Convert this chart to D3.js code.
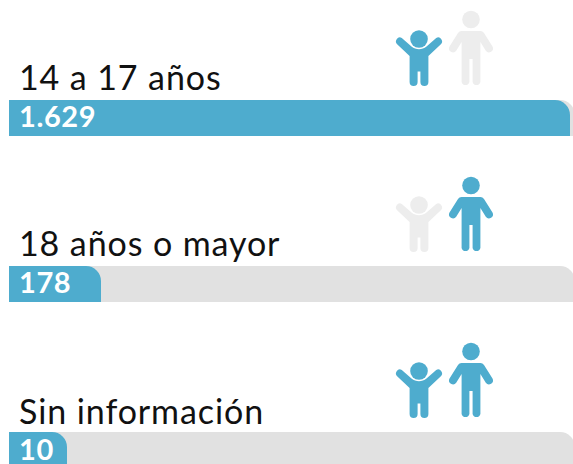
<!DOCTYPE html>
<html>
<head>
<meta charset="utf-8">
<script src="https://d3js.org/d3.v7.min.js"></script>
<style>
  html, body { margin: 0; padding: 0; background: #fff; overflow: hidden; }
  text { font-family: Lato, sans-serif; }
</style>
</head>
<body>
<div id="chart"></div>
<script>
const categories = ["14 a 17 años", "18 años o mayor", "Sin información"];
const values = [1629, 178, 10];
const valueLabels = ["1.629", "178", "10"];
const childOn = [true, false, true];
const adultOn = [false, true, true];

const w = 573, h = 464;
const blue = "#4eacce", off = "#ededed", track = "#e1e1e1";
const barH = 36, r = 15;

const svg = d3.select("#chart").append("svg")
    .attr("width", w)
    .attr("height", h)
    .style("display", "block");

const rowY = d3.scalePoint().domain(categories).range([100, 432]);
// text rows are not spaced quite as evenly as the bars
const labelY = d3.scaleOrdinal().domain(categories).range([90, 256, 423.5]);
const valueY = d3.scaleOrdinal().domain(categories).range([127, 293, 459.5]);
// bars of the original are not proportional for small values, so the scale has three stops
const barW = d3.scaleLinear().domain([10, 178, 1629]).range([58, 92, 561]);

// bar with rounded top right corner, square everywhere else
function barPath(width) {
    return "M0,0H" + (width - r) + "A" + r + "," + r + " 0 0 1 " + width + "," + r +
        "V" + barH + "H0Z";
}

function drawAdult(g, color) {
    g.append("circle").attr("r", 8.8).attr("fill", color);
    g.append("path").attr("fill", color)
        .attr("d", "M-9.4,11.5H9.4C11,11.5 12,12.2 13,13.5L21.5,27A4,4 0 0 1 14.8,31.3L9.4,22.5V62.5A4,4 0 0 1 1.6,62.5V39.5H-1.6V62.5A4,4 0 0 1 -9.4,62.5V22.5L-14.8,31.3A4,4 0 0 1 -21.5,27L-13,13.5C-12,12.2 -11,11.5 -9.4,11.5Z");
}

function drawChild(g, color) {
    g.append("circle").attr("r", 8.8).attr("fill", color);
    g.append("path").attr("fill", color)
        .attr("d", "M-21.6,5.4A3.9,3.9 0 0 1 -17.2,-1L-7.5,7.5C-3,11 3,11 7.5,7.5L17.2,-1A3.9,3.9 0 0 1 21.6,5.4L9.4,17V43A3.9,3.9 0 0 1 1.4,43V32.5H-1.4V43A3.9,3.9 0 0 1 -9.4,43V17Z");
}

const rows = svg.selectAll("g.row")
    .data(categories)
    .enter().append("g")
    .attr("class", "row")
    .attr("transform", d => "translate(9," + rowY(d) + ")");

rows.append("path")
    .attr("d", barPath(566))
    .attr("fill", track);

rows.append("path")
    .attr("d", (d, i) => barPath(barW(values[i])))
    .attr("fill", blue);

rows.append("text")
    .attr("x", 10)
    .attr("y", d => labelY(d) - rowY(d))
    .attr("font-size", 34)
    .attr("letter-spacing", 0.9)
    .attr("fill", "#111")
    .text(d => d);

rows.append("text")
    .attr("x", 10)
    .attr("y", d => valueY(d) - rowY(d))
    .attr("font-size", 29)
    .attr("font-weight", 700)
    .attr("letter-spacing", 0.6)
    .attr("fill", "#fff")
    .text((d, i) => valueLabels[i]);

rows.each(function (d, i) {
    const row = d3.select(this);
    drawChild(row.append("g").attr("transform", "translate(410,-61)"), childOn[i] ? blue : off);
    drawAdult(row.append("g").attr("transform", "translate(462,-80.5)"), adultOn[i] ? blue : off);
});
</script>
</body>
</html>
